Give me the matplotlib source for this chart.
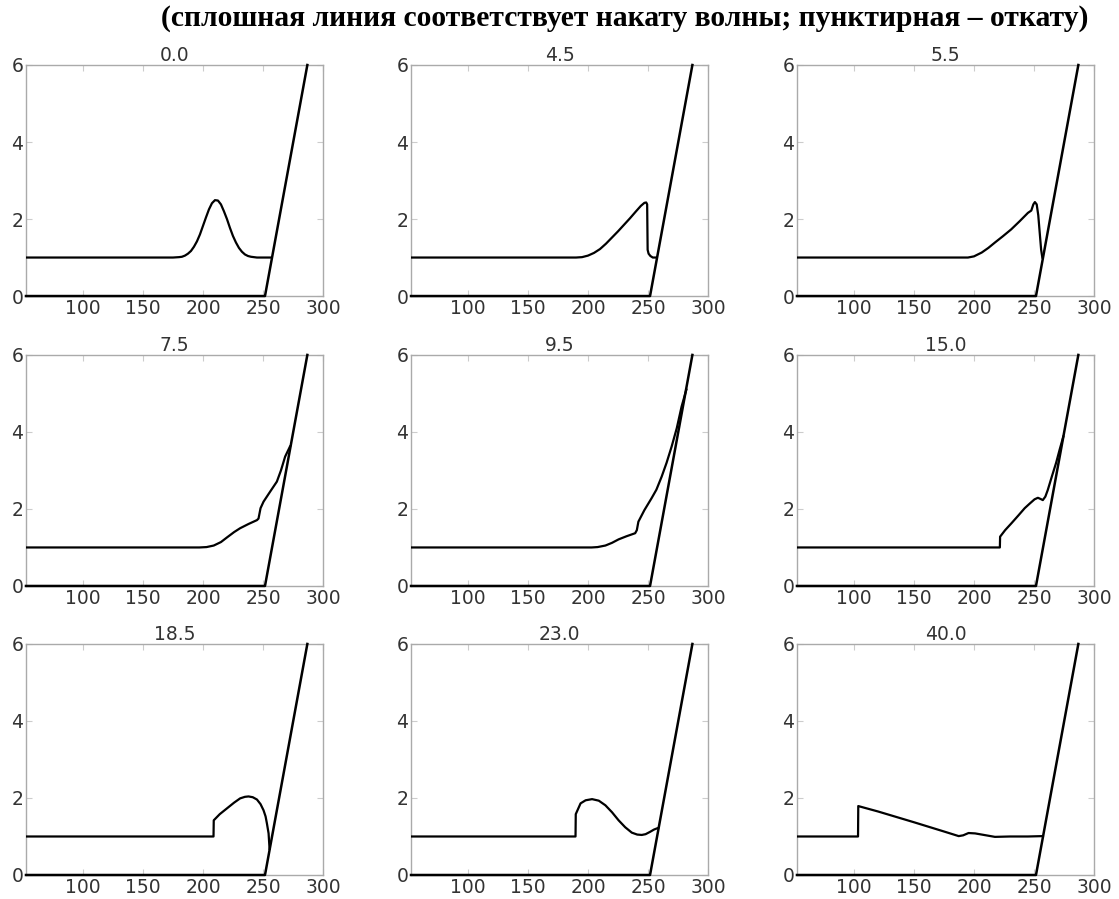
import matplotlib.pyplot as plt

# bottom profile (flat floor, then the beach slope)
bottom_x = [52.5, 251.7, 287.0]
bottom_y = [0.0, 0.0, 6.0]

titles = ['0.0', '4.5', '5.5', '7.5', '9.5', '15.0', '18.5', '23.0', '40.0']

x_00 = [52.5, 175, 180, 182.5, 185, 187.5, 190, 192.5, 195, 197.5, 200, 202.5, 205, 207.5, 210, 212.5,
        215, 217.5, 220, 222.5, 225, 227.5, 230, 232.5, 235, 237.5, 240, 245, 257]
y_00 = [1.0, 1.0, 1.01, 1.02, 1.05, 1.1, 1.17, 1.28, 1.42, 1.6, 1.82, 2.04, 2.25, 2.41, 2.49, 2.48,
        2.38, 2.2, 2.0, 1.77, 1.56, 1.39, 1.25, 1.15, 1.08, 1.04, 1.02, 1.0, 1.0]

x_45 = [52.5, 190, 195, 200, 205, 210, 215, 220, 225, 230, 235, 240, 244, 247, 248.5, 249.3, 249.7, 250.5, 252, 254, 257]
y_45 = [1.0, 1.0, 1.01, 1.05, 1.12, 1.22, 1.36, 1.52, 1.68, 1.85, 2.02, 2.2, 2.34, 2.42, 2.43, 2.38, 1.2, 1.1, 1.04, 1.0, 1.0]

x_55 = [52.5, 195, 200, 206.5, 212, 217.5, 224, 231, 238, 245, 247.8, 249.5, 250.8, 252.3, 253.6, 254.8, 256, 257]
y_55 = [1.0, 1.0, 1.03, 1.13, 1.25, 1.39, 1.55, 1.73, 1.94, 2.16, 2.22, 2.38, 2.44, 2.38, 2.1, 1.65, 1.2, 1.0]

x_75 = [52.5, 197, 203, 209, 215, 220, 226, 231, 238, 245, 246.3, 248, 250.5, 256, 261.6, 265, 268.5, 272.5]
y_75 = [1.0, 1.0, 1.01, 1.05, 1.14, 1.26, 1.4, 1.5, 1.61, 1.71, 1.75, 2.02, 2.19, 2.45, 2.71, 3.0, 3.36, 3.62]

x_95 = [52.5, 203, 208, 214.5, 220, 225.5, 232, 239.3, 240.7, 242, 247, 253, 257, 261.4, 265.5, 269.7, 274, 278, 282]
y_95 = [1.0, 1.0, 1.01, 1.05, 1.12, 1.21, 1.29, 1.37, 1.45, 1.67, 1.97, 2.28, 2.5, 2.84, 3.2, 3.62, 4.1, 4.66, 5.1]

x_150 = [52.5, 221.6, 221.8, 226, 231.3, 237, 242.3, 246.5, 250.5, 253.3, 255.5, 257.4, 259.5, 261.5, 265, 268.5, 271.5, 274.5]
y_150 = [1.0, 1.0, 1.28, 1.45, 1.63, 1.83, 2.02, 2.14, 2.25, 2.29, 2.26, 2.23, 2.32, 2.49, 2.85, 3.2, 3.55, 3.88]

x_185 = [52.5, 208.8, 209.0, 214, 220, 226, 231, 235, 238, 241.5, 245, 248, 250.5, 252.2, 253.3, 254.7, 255.5]
y_185 = [1.0, 1.0, 1.42, 1.58, 1.73, 1.88, 1.99, 2.03, 2.04, 2.02, 1.96, 1.84, 1.68, 1.52, 1.34, 1.08, 0.68]

x_230 = [52.5, 189.6, 189.8, 193.8, 198, 203.4, 209, 214.5, 220, 225.5, 231, 236.5, 241, 244.8, 248, 251.7, 255, 258.3]
y_230 = [1.0, 1.0, 1.58, 1.86, 1.94, 1.97, 1.93, 1.81, 1.63, 1.42, 1.24, 1.1, 1.05, 1.04, 1.06, 1.12, 1.18, 1.22]

x_400 = [52.5, 103.4, 103.6, 120, 135, 150, 162.5, 175, 187.3, 191, 195.5, 201, 206.5, 212, 217.5, 230, 245, 257.5]
y_400 = [1.0, 1.0, 1.79, 1.65, 1.51, 1.37, 1.25, 1.13, 1.01, 1.03, 1.09, 1.08, 1.05, 1.02, 0.99, 1.0, 1.0, 1.01]

waves_x = [x_00, x_45, x_55, x_75, x_95, x_150, x_185, x_230, x_400]
waves_y = [y_00, y_45, y_55, y_75, y_95, y_150, y_185, y_230, y_400]

fig = plt.figure(figsize=(11.19, 8.99), dpi=100)

lefts = [0.0232, 0.3673, 0.7122]
bottoms = [0.6707, 0.3482, 0.0267]
w, h = 0.2654, 0.257

for i in range(9):
    r, c = divmod(i, 3)
    ax = fig.add_axes([lefts[c], bottoms[r], w, h])
    ax.plot(bottom_x, bottom_y, color='black', lw=1.8, clip_on=False, zorder=3)
    ax.plot(waves_x[i], waves_y[i], color='black', lw=1.6, zorder=3)
    ax.set_xlim(52.5, 300)
    ax.set_ylim(0, 6)
    ax.set_xticks([100, 150, 200, 250, 300])
    ax.set_yticks([0, 2, 4, 6])
    ax.tick_params(direction='in', length=4, color='#cccccc', labelsize=13.5,
                   labelcolor='#333333', pad=2, top=True, right=True)
    for s in ax.spines.values():
        s.set_color('#aaaaaa')
        s.set_linewidth(1.0)
    ax.set_title(titles[i], fontsize=13.5, color='#333333', pad=3)

fig.text(0.558, 0.979, '(сплошная линия соответствует накату волны; пунктирная – откату)',
         ha='center', va='center', fontsize=21.3, fontweight='bold', family='Liberation Serif')

fig.savefig('out.png', dpi=100)
